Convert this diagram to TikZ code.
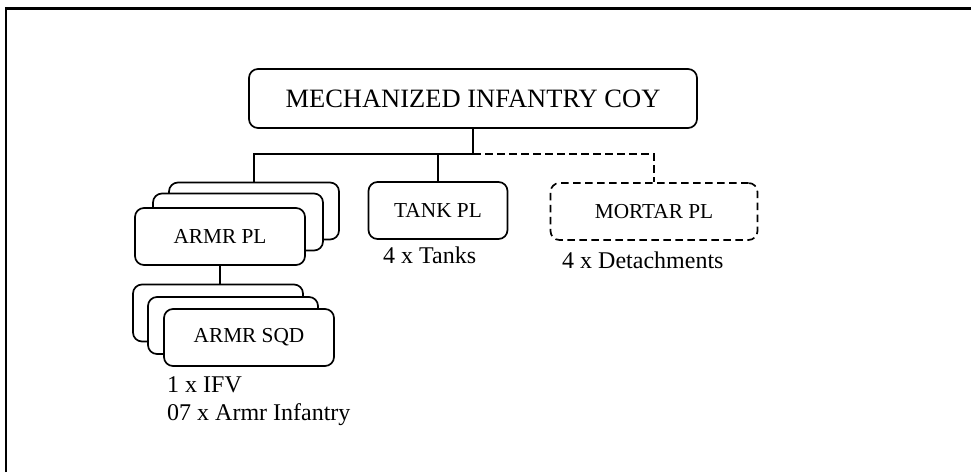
\documentclass[tikz,border=0pt]{standalone}
\usepackage{fontspec}
\setmainfont{Liberation Serif}
\begin{document}
\begin{tikzpicture}[x=1pt,y=-1pt,
  unitbox/.style={draw, line width=1.7pt, rounded corners=9pt, fill=white,
    inner sep=0pt, minimum width=170pt, minimum height=57pt,
    font=\fontsize{21.3}{25}\selectfont},
  optbox/.style={unitbox, dash pattern=on 7.5pt off 4.5pt},
  link/.style={line width=1.8pt},
  optlink/.style={link, dash pattern=on 7.5pt off 4.5pt},
  note/.style={anchor=base west, inner sep=0pt, font=\fontsize{24}{28}\selectfont}]

% page and frame
\fill[white] (0,0) rectangle (971,472);
\useasboundingbox (0,0) rectangle (971,472);
\draw[line width=2.4pt] (6,472) -- (6,8.5) -- (971,8.5);

% company
\node[unitbox, minimum width=448pt, minimum height=59pt,
  font=\fontsize{26.5}{30}\selectfont] (coy) at (473,98.5) {MECHANIZED INFANTRY COY};
\coordinate (bus) at (473,154);

% armoured platoons (stack of three)
\node[unitbox] (armr3) at (254,211) {};
\node[unitbox] (armr2) at (238,222) {};
\node[unitbox] (armr1) at (220,236.5) {ARMR PL};

% tank platoon
\node[unitbox, minimum width=139pt] (tank) at (438,210.5) {TANK PL};
\node[note] (tanknote) at (383,263) {4 x Tanks};

% mortar platoon (optional)
\node[optbox, minimum width=207pt] (mortar) at (654,211.5) {MORTAR PL};
\node[note] (mortarnote) at (562,268) {4 x Detachments};

% armoured squads (stack of three)
\node[unitbox] (sqd3) at (218,313) {};
\node[unitbox] (sqd2) at (233,325.5) {};
\node[unitbox] (sqd1) at (249,337.5) {ARMR SQD};
\node[note] (sqdnote1) at (167,392) {1 x IFV};
\node[note] (sqdnote2) at (167,420) {07 x Armr Infantry};

% connectors
\draw[link] (coy.south) -- (bus);
\draw[link] (armr3.north) |- (bus);
\draw[link] (tank.north) -- (tank.north |- bus);
\draw[optlink] (bus) -| (mortar.north);
\draw[link] (armr1.south) -- (armr1.south |- sqd3.north);
\end{tikzpicture}
\end{document}
